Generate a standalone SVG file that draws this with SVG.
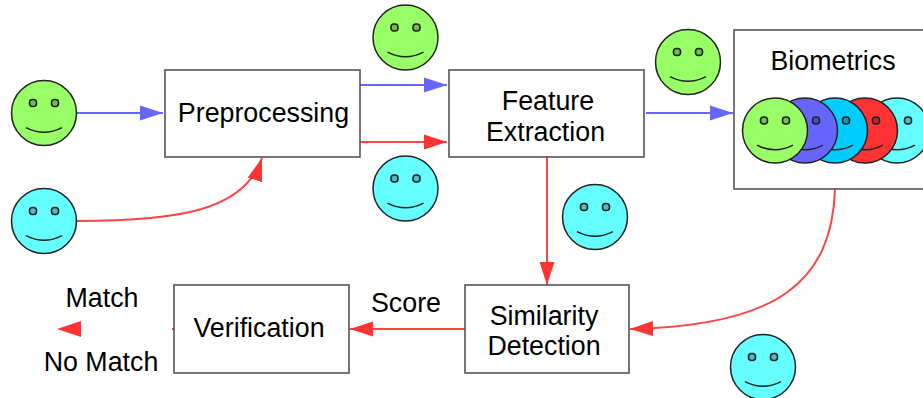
<svg xmlns="http://www.w3.org/2000/svg" width="923" height="398" viewBox="0 0 923 398">
<style>
.box{fill:#fff;stroke:#555;stroke-width:1.6}
.lbl{font-family:"Liberation Sans",Arial,sans-serif;font-size:26.8px;fill:#000;text-anchor:middle}
.head{stroke:#222;stroke-width:1.5}
.eye{fill-opacity:.25;fill:#000;stroke:#222;stroke-width:1.6}
.sm{fill:none;stroke:#222;stroke-width:1.5}
.blue{fill:none;stroke:#6666ff;stroke-width:2}
.red{fill:none;stroke:#ff4444;stroke-width:2}
.g{fill:#99ff66}.c{fill:#66ffff}.b{fill:#6666ff}.d{fill:#00ccff}.r{fill:#ff3333}
</style>
<defs>
<g id="face-details">
<rect class="eye" x="-14.5" y="-13.5" width="7" height="7" rx="3"/>
<rect class="eye" x="7.5" y="-13.5" width="7" height="7" rx="3"/>
<path class="sm" d="M-18 14.7Q0 24 18 14.7"/>
</g>
<marker id="ab" markerUnits="userSpaceOnUse" markerWidth="24" markerHeight="20" refX="23" refY="10" orient="auto"><path d="M0 2.5L23 10L0 17.5Z" fill="#6666ff"/></marker>
<marker id="ar" markerUnits="userSpaceOnUse" markerWidth="24" markerHeight="20" refX="23" refY="10" orient="auto"><path d="M0 2.5L23 10L0 17.5Z" fill="#ff3333"/></marker>
</defs>
<g id="connectors">
<path class="blue" d="M77 113H163" marker-end="url(#ab)"/>
<path class="red" d="M77 221C180 221 245 210 262 158" marker-end="url(#ar)"/>
<path class="blue" d="M360 85H447" marker-end="url(#ab)"/>
<path class="red" d="M360 142H447" marker-end="url(#ar)"/>
<path class="blue" d="M646 113H733" marker-end="url(#ab)"/>
<path class="red" d="M547 157V285" marker-end="url(#ar)"/>
<path class="red" d="M835 189C832 280 780 326 630 329" marker-end="url(#ar)"/>
<path class="red" d="M465 329H350" marker-end="url(#ar)"/>
<path class="red" d="M174 329H172"/>
<path d="M81 321L57 329L81 337Z" fill="#ff3333"/>
</g>
<g id="preprocessing"><rect class="box" x="165" y="70" width="195" height="87"/><text class="lbl" x="263.5" y="122">Preprocessing</text></g>
<g id="feature-extraction"><rect class="box" x="449" y="70" width="195" height="87"/><text class="lbl" x="548" y="110">Feature</text><text class="lbl" x="545.5" y="141">Extraction</text></g>
<g id="biometrics"><rect class="box" x="734" y="30" width="200" height="159"/><text class="lbl" x="833" y="70">Biometrics</text>
<g transform="translate(897 130.5)"><circle class="head c" r="32.5"/><use href="#face-details"/></g>
<g transform="translate(865 130.5)"><circle class="head r" r="32.5"/><use href="#face-details"/></g>
<g transform="translate(835 130.5)"><circle class="head d" r="32.5"/><use href="#face-details"/></g>
<g transform="translate(805 130.5)"><circle class="head b" r="32.5"/><use href="#face-details"/></g>
<g transform="translate(775 130.5)"><circle class="head g" r="32.5"/><use href="#face-details"/></g>
</g>
<g id="similarity-detection"><rect class="box" x="465" y="285" width="164" height="88"/><text class="lbl" x="544" y="325">Similarity</text><text class="lbl" x="544" y="355">Detection</text></g>
<g id="verification"><rect class="box" x="174" y="285" width="175" height="88"/><text class="lbl" x="259" y="337">Verification</text></g>
<g id="face-1" transform="translate(44 113)"><circle class="head g" r="32.5"/><use href="#face-details"/></g>
<g id="face-2" transform="translate(44 221)"><circle class="head c" r="32.5"/><use href="#face-details"/></g>
<g id="face-3" transform="translate(405.5 37.5)"><circle class="head g" r="32.5"/><use href="#face-details"/></g>
<g id="face-4" transform="translate(405.5 188.5)"><circle class="head c" r="32.5"/><use href="#face-details"/></g>
<g id="face-5" transform="translate(688 62)"><circle class="head g" r="32.5"/><use href="#face-details"/></g>
<g id="face-6" transform="translate(595 217)"><circle class="head c" r="32.5"/><use href="#face-details"/></g>
<g id="face-7" transform="translate(763 367)"><circle class="head c" r="32.5"/><use href="#face-details"/></g>
<g id="labels">
<text class="lbl" x="406" y="312">Score</text>
<text class="lbl" x="102" y="307">Match</text>
<text class="lbl" x="101" y="371">No Match</text>
</g>
</svg>
